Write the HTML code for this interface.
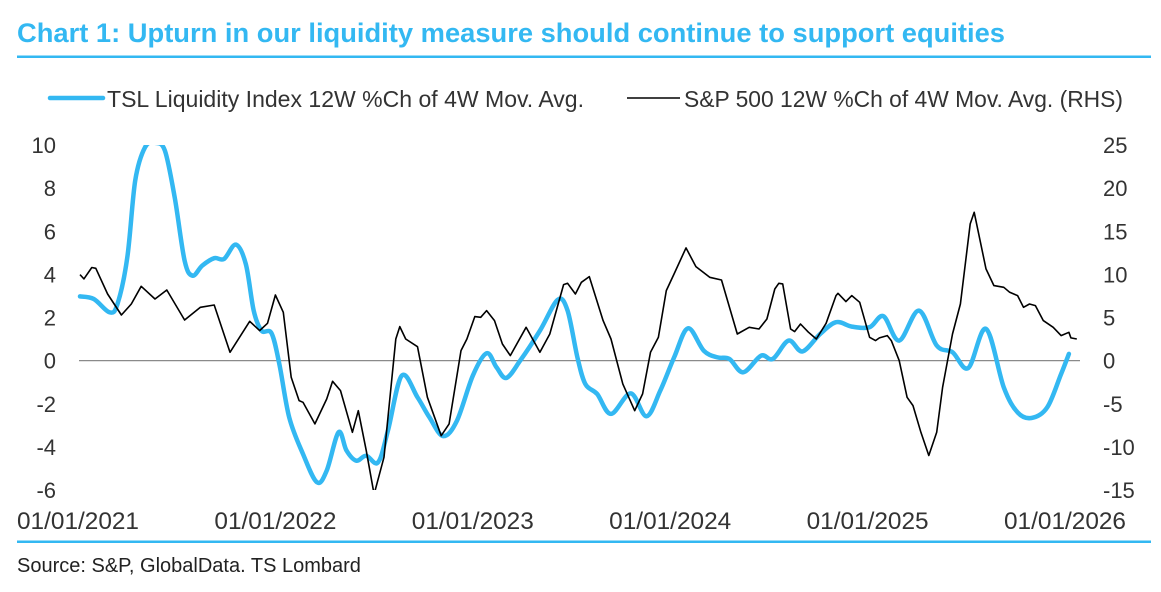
<!DOCTYPE html>
<html><head><meta charset="utf-8"><style>
html,body{margin:0;padding:0;background:#fff;}
svg{display:block;font-family:"Liberation Sans",sans-serif;}
</style></head><body>
<svg id="chart" width="1161" height="592" viewBox="0 0 1161 592" xmlns="http://www.w3.org/2000/svg">
<text x="17" y="42" font-size="27" font-weight="bold" fill="#33b8f2" textLength="988" lengthAdjust="spacingAndGlyphs">Chart 1: Upturn in our liquidity measure should continue to support equities</text>
<rect x="17" y="55.5" width="1134" height="2.5" fill="#33b8f2"/>
<g>
<line x1="50" y1="98" x2="103" y2="98" stroke="#33b8f2" stroke-width="4.5" stroke-linecap="round"/>
<text x="107" y="107" font-size="23" fill="#333" textLength="477" lengthAdjust="spacingAndGlyphs">TSL Liquidity Index 12W %Ch of 4W Mov. Avg.</text>
<line x1="627" y1="98" x2="680" y2="98" stroke="#000" stroke-width="1.6"/>
<text x="684" y="107" font-size="23" fill="#333" textLength="439" lengthAdjust="spacingAndGlyphs">S&amp;P 500 12W %Ch of 4W Mov. Avg. (RHS)</text>
</g>
<g id="axes"></g>
<defs><clipPath id="plotclip"><rect x="60" y="145" width="1040" height="345"/></clipPath></defs>
<g id="series" clip-path="url(#plotclip)"></g>
<rect x="17" y="540.5" width="1134" height="2.5" fill="#33b8f2"/>
<text x="17" y="572" font-size="20" fill="#222">Source: S&amp;P, GlobalData. TS Lombard</text>
</svg>
<script>
const liqDates=[2021.01,2021.08,2021.16,2021.20,2021.25,2021.29,2021.34,2021.39,2021.44,2021.49,2021.54,2021.58,2021.63,2021.69,2021.74,2021.80,2021.85,2021.89,2021.93,2021.98,2022.02,2022.07,2022.14,2022.21,2022.26,2022.32,2022.36,2022.41,2022.46,2022.52,2022.57,2022.64,2022.72,2022.78,2022.85,2022.92,2023.00,2023.07,2023.12,2023.17,2023.24,2023.34,2023.43,2023.48,2023.53,2023.57,2023.63,2023.70,2023.80,2023.88,2023.95,2024.02,2024.09,2024.17,2024.24,2024.30,2024.37,2024.46,2024.52,2024.60,2024.67,2024.76,2024.84,2024.92,2025.01,2025.08,2025.16,2025.26,2025.35,2025.43,2025.51,2025.60,2025.69,2025.76,2025.83,2025.91,2025.98,2026.02];
const liqValues=[2.98,2.86,2.24,2.63,4.79,8.35,9.9,10.1,9.74,7.57,4.64,3.94,4.41,4.75,4.72,5.38,4.48,2.32,1.39,1.27,-0.15,-2.63,-4.33,-5.64,-5.10,-3.32,-4.17,-4.64,-4.41,-4.72,-3.25,-0.70,-1.70,-2.63,-3.50,-2.78,-0.70,0.34,-0.31,-0.80,0,1.39,2.82,2.32,0.15,-1.08,-1.55,-2.47,-1.52,-2.58,-1.39,0.15,1.50,0.46,0.15,0.08,-0.54,0.23,0.08,0.93,0.43,1.24,1.78,1.58,1.55,2.06,0.93,2.32,0.70,0.39,-0.34,1.47,-1.24,-2.40,-2.66,-2.17,-0.62,0.31];
const spDates=[2021.01,2021.03,2021.07,2021.09,2021.15,2021.22,2021.27,2021.32,2021.39,2021.45,2021.54,2021.62,2021.69,2021.77,2021.87,2021.92,2021.96,2022.00,2022.04,2022.08,2022.12,2022.14,2022.20,2022.26,2022.29,2022.33,2022.39,2022.42,2022.46,2022.50,2022.55,2022.61,2022.63,2022.66,2022.72,2022.77,2022.84,2022.88,2022.94,2022.97,2023.01,2023.04,2023.07,2023.11,2023.15,2023.19,2023.27,2023.34,2023.39,2023.46,2023.48,2023.52,2023.55,2023.59,2023.66,2023.70,2023.76,2023.82,2023.86,2023.90,2023.94,2023.98,2024.02,2024.08,2024.13,2024.20,2024.26,2024.34,2024.40,2024.45,2024.49,2024.53,2024.55,2024.57,2024.61,2024.63,2024.66,2024.70,2024.74,2024.79,2024.84,2024.85,2024.89,2024.92,2024.96,2025.01,2025.04,2025.06,2025.10,2025.12,2025.16,2025.20,2025.23,2025.27,2025.31,2025.35,2025.38,2025.43,2025.47,2025.52,2025.54,2025.60,2025.64,2025.69,2025.72,2025.76,2025.79,2025.82,2025.85,2025.89,2025.94,2025.98,2026.02,2026.03,2026.06];
const spValues=[9.97,9.47,10.8,10.7,7.73,5.29,6.57,8.62,7.15,8.19,4.71,6.18,6.45,0.97,4.56,3.48,4.33,7.61,5.60,-1.93,-4.64,-4.83,-7.34,-4.45,-2.40,-3.48,-8.31,-5.80,-10.4,-15.5,-11.2,2.51,3.94,2.51,1.62,-4.25,-8.70,-7.34,1.16,2.51,5.10,5.02,5.80,4.64,1.93,0.58,3.86,0.97,3.09,8.81,8.97,7.73,9.08,9.74,4.64,2.51,-2.70,-5.80,-3.86,0.97,2.70,8.12,10.05,13.07,10.9,9.66,9.35,3.09,3.86,3.67,4.83,8.31,8.97,8.89,3.67,3.36,4.25,3.29,2.51,4.33,7.54,7.81,6.84,7.54,6.76,2.70,2.32,2.63,2.90,2.32,0,-4.25,-5.22,-8.31,-11.0,-8.31,-3.09,3.09,6.57,15.85,17.2,10.63,8.70,8.50,7.92,7.54,6.18,6.57,6.38,4.64,3.86,2.90,3.28,2.63,2.51];
const leftTicks=[10,8,6,4,2,0,-2,-4,-6];
const rightTicks=[25,20,15,10,5,0,-5,-10,-15];
const xTickYears=[2021,2022,2023,2024,2025,2026];
const xTickLabels=["01/01/2021","01/01/2022","01/01/2023","01/01/2024","01/01/2025","01/01/2026"];

const NS="http://www.w3.org/2000/svg";
const X0=78, PXY=197.4;
function xS(t){return X0+(t-2021)*PXY;}
function yL(v){return 145+(10-v)*(345/16);}
function yR(v){return 145+(25-v)*(345/40);}
const axes=document.getElementById('axes');
const series=document.getElementById('series');
function mk(tag,attrs,parent){const e=document.createElementNS(NS,tag);for(const k in attrs)e.setAttribute(k,attrs[k]);parent.appendChild(e);return e;}

const zl=mk('line',{x1:79,x2:1080,y1:yL(0),y2:yL(0),stroke:'#8a8a8a','stroke-width':1.2},axes);


leftTicks.forEach(v=>{
  const t=mk('text',{x:56,y:yL(v)+8,'font-size':22,fill:'#333','text-anchor':'end'},axes);
  t.textContent=v;
  
  
});
rightTicks.forEach(v=>{
  const t=mk('text',{x:1103,y:yR(v)+8,'font-size':22,fill:'#333'},axes);
  t.textContent=v;
  
  
});
xTickYears.forEach((yr,i)=>{
  const t=mk('text',{x:xS(yr),y:529,'font-size':24,fill:'#333','text-anchor':'middle',textLength:122,lengthAdjust:'spacingAndGlyphs'},axes);
  t.textContent=xTickLabels[i];
  
  
});
function smooth(pts){
  let d='M'+pts[0][0].toFixed(1)+','+pts[0][1].toFixed(1);
  for(let i=0;i<pts.length-1;i++){
    const p0=pts[Math.max(0,i-1)],p1=pts[i],p2=pts[i+1],p3=pts[Math.min(pts.length-1,i+2)];
    const c1=[p1[0]+(p2[0]-p0[0])/6,p1[1]+(p2[1]-p0[1])/6];
    const c2=[p2[0]-(p3[0]-p1[0])/6,p2[1]-(p3[1]-p1[1])/6];
    d+=' C'+c1[0].toFixed(1)+','+c1[1].toFixed(1)+' '+c2[0].toFixed(1)+','+c2[1].toFixed(1)+' '+p2[0].toFixed(1)+','+p2[1].toFixed(1);
  }
  return d;
}
const liqPts=liqDates.map((t,i)=>[xS(t),yL(liqValues[i])]);
const spPts=spDates.map((t,i)=>[xS(t),yR(spValues[i])]);
const lp=mk('path',{d:smooth(liqPts),fill:'none',stroke:'#33b8f2','stroke-width':4.5,'stroke-linejoin':'round','stroke-linecap':'round'},series);


const sp=mk('path',{d:'M'+spPts.map(p=>p[0].toFixed(1)+','+p[1].toFixed(1)).join(' L'),fill:'none',stroke:'#000','stroke-width':1.6,'stroke-linejoin':'round'},series);


</script>
</body></html>
